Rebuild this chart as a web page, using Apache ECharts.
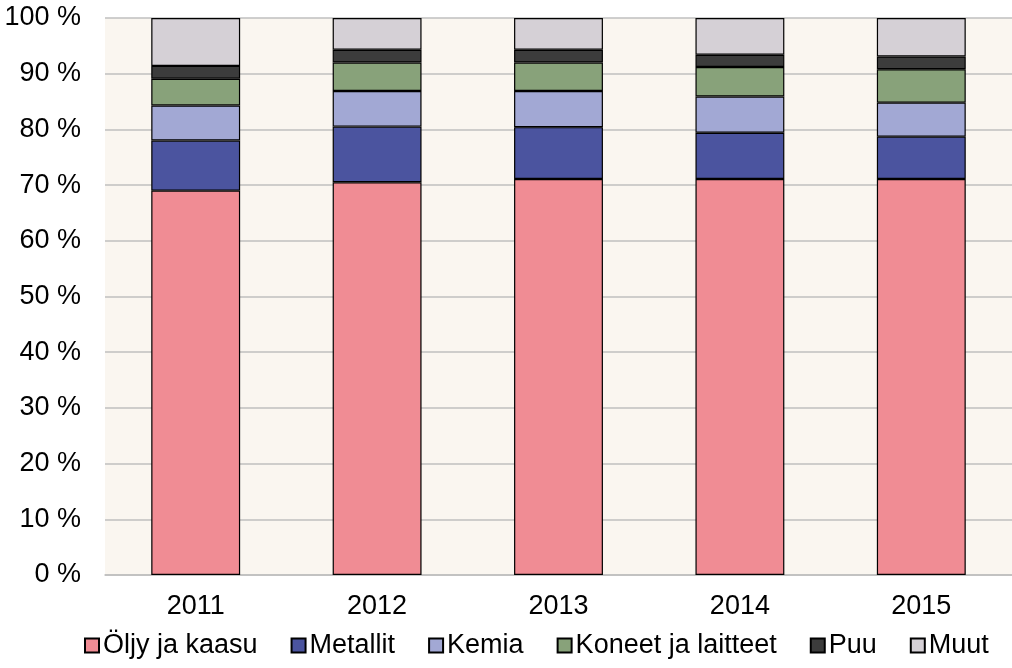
<!DOCTYPE html>
<html>
<head>
<meta charset="utf-8">
<script src="https://cdn.jsdelivr.net/npm/echarts@6/dist/echarts.min.js"></script>
<style>
html,body{margin:0;padding:0;background:#fff;}
#chart{width:1012px;height:668px;}
</style>
</head>
<body>
<div id="chart"></div>
<script>
const years = ['2011','2012','2013','2014','2015'];
const seriesNames = ['Öljy ja kaasu','Metallit','Kemia','Koneet ja laitteet','Puu','Muut'];
const oljy = [69.0, 70.5, 71.1, 71.1, 71.1];
const metallit = [9.0, 10.0, 9.3, 8.3, 7.6];
const kemia = [6.3, 6.4, 6.5, 6.5, 6.1];
const koneet = [4.8, 5.1, 5.1, 5.3, 6.0];
const puu = [2.3, 2.3, 2.3, 2.2, 2.3];
const muut = [8.6, 5.7, 5.7, 6.6, 6.9];
const colors = ['#F08C94','#4B549F','#A2A8D4','#88A27A','#3C3C3C','#D5D0D6'];

const values = [oljy, metallit, kemia, koneet, puu, muut];
const font = 'Liberation Sans, Arial, sans-serif';

const chart = echarts.init(document.getElementById('chart'));
chart.setOption({
  animation: false,
  backgroundColor: '#ffffff',
  grid: {
    left: 105, top: 18, width: 919, height: 557,
    show: true, backgroundColor: '#FAF6F0', borderWidth: 0
  },
  legend: {
    bottom: 4,
    left: 79,
    itemWidth: 14, itemHeight: 14, itemGap: 33,
    icon: 'rect',
    textStyle: { fontFamily: font, fontSize: 27, color: '#000', padding: [0,0,0,-1] },
    data: seriesNames
  },
  xAxis: {
    type: 'category',
    data: years,
    axisTick: { show: false },
    axisLine: { lineStyle: { color: '#BFBFBF', width: 1.5 } },
    axisLabel: { fontFamily: font, fontSize: 27, color: '#000', margin: 18 }
  },
  yAxis: {
    type: 'value',
    min: 0, max: 100, interval: 10,
    axisLine: { show: false },
    axisTick: { show: false },
    axisLabel: { fontFamily: font, fontSize: 27, color: '#000', margin: 24, formatter: '{value} %' },
    splitLine: { lineStyle: { color: '#BFBFBF', width: 1.5 } }
  },
  series: seriesNames.map((name, i) => ({
    name: name,
    type: 'bar',
    stack: 'total',
    barWidth: '49%',
    data: values[i],
    itemStyle: { color: colors[i], borderColor: '#000', borderWidth: 1.2 }
  }))
});
</script>
</body>
</html>
